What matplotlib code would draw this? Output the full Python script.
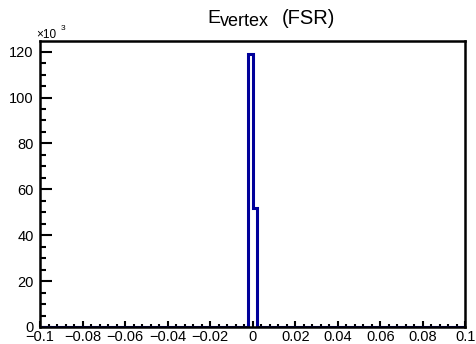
import numpy as np
import matplotlib
matplotlib.use("Agg")
import matplotlib.pyplot as plt
from matplotlib.ticker import MultipleLocator, FuncFormatter

plt.rcParams['font.family'] = ['Liberation Sans', 'DejaVu Sans']
plt.rcParams['axes.unicode_minus'] = True

# Histogram data: 100 bins from -0.1 to 0.1
x_min, x_max, n_bins = -0.1, 0.1, 100
bin_edges = np.linspace(x_min, x_max, n_bins + 1)
counts = np.zeros(n_bins)
peak_bins = [49, 50]           # bins [-0.002, 0) and [0, 0.002)
peak_counts = [118900, 51700]
counts[peak_bins] = peak_counts

x_ticks = [-0.1, -0.08, -0.06, -0.04, -0.02, 0, 0.02, 0.04, 0.06, 0.08, 0.1]
x_tick_labels = ['−0.1', '−0.08', '−0.06', '−0.04', '−0.02', '0', '0.02', '0.04', '0.06', '0.08', '0.1']
y_ticks = [0, 20000, 40000, 60000, 80000, 100000, 120000]

W, H = 477, 344
fig = plt.figure(figsize=(W / 100, H / 100), dpi=100)
L, R, T, B = 40, 465.5, 40.5, 327
ax = fig.add_axes([L / W, (H - B) / H, (R - L) / W, (B - T) / H])

ax.stairs(counts, bin_edges, color='#00009a', linewidth=2.2, zorder=2)

ax.set_xlim(x_min, x_max)
ax.set_ylim(0, counts.max() * 1.05)

for s in ax.spines.values():
    s.set_linewidth(1.8)
    s.set_zorder(3)

ax.set_xticks(x_ticks)
ax.set_xticklabels(x_tick_labels)
ax.xaxis.set_minor_locator(MultipleLocator(0.004))
ax.set_yticks(y_ticks)
ax.yaxis.set_major_formatter(FuncFormatter(lambda v, p: f"{v/1000:.0f}"))
ax.yaxis.set_minor_locator(MultipleLocator(5000))

ax.tick_params(axis='both', which='both', direction='in', labelsize=10.5, width=1.5)
ax.tick_params(axis='x', which='major', length=4.5, pad=2.5)
ax.tick_params(axis='x', which='minor', length=2.4)
ax.tick_params(axis='y', which='major', length=8.5, pad=4.5)
ax.tick_params(axis='y', which='minor', length=4)
ax.tick_params(top=False, right=False)

# exponent label
fig.text(36 / W, 1 - 37.5 / H, '×10', fontsize=8.5, ha='left', va='baseline')
fig.text(60.5 / W, 1 - 29.5 / H, '3', fontsize=6, ha='left', va='baseline')

# title: E_vertex (FSR)
fig.text(207.5 / W, 1 - 23 / H, 'E', fontsize=14, ha='left', va='baseline')
fig.text(219.5 / W, 1 - 26.5 / H, 'vertex', fontsize=13, ha='left', va='baseline')
fig.text(282 / W, 1 - 23.5 / H, '(FSR)', fontsize=14.5, ha='left', va='baseline')

fig.savefig('out.png', dpi=100)
